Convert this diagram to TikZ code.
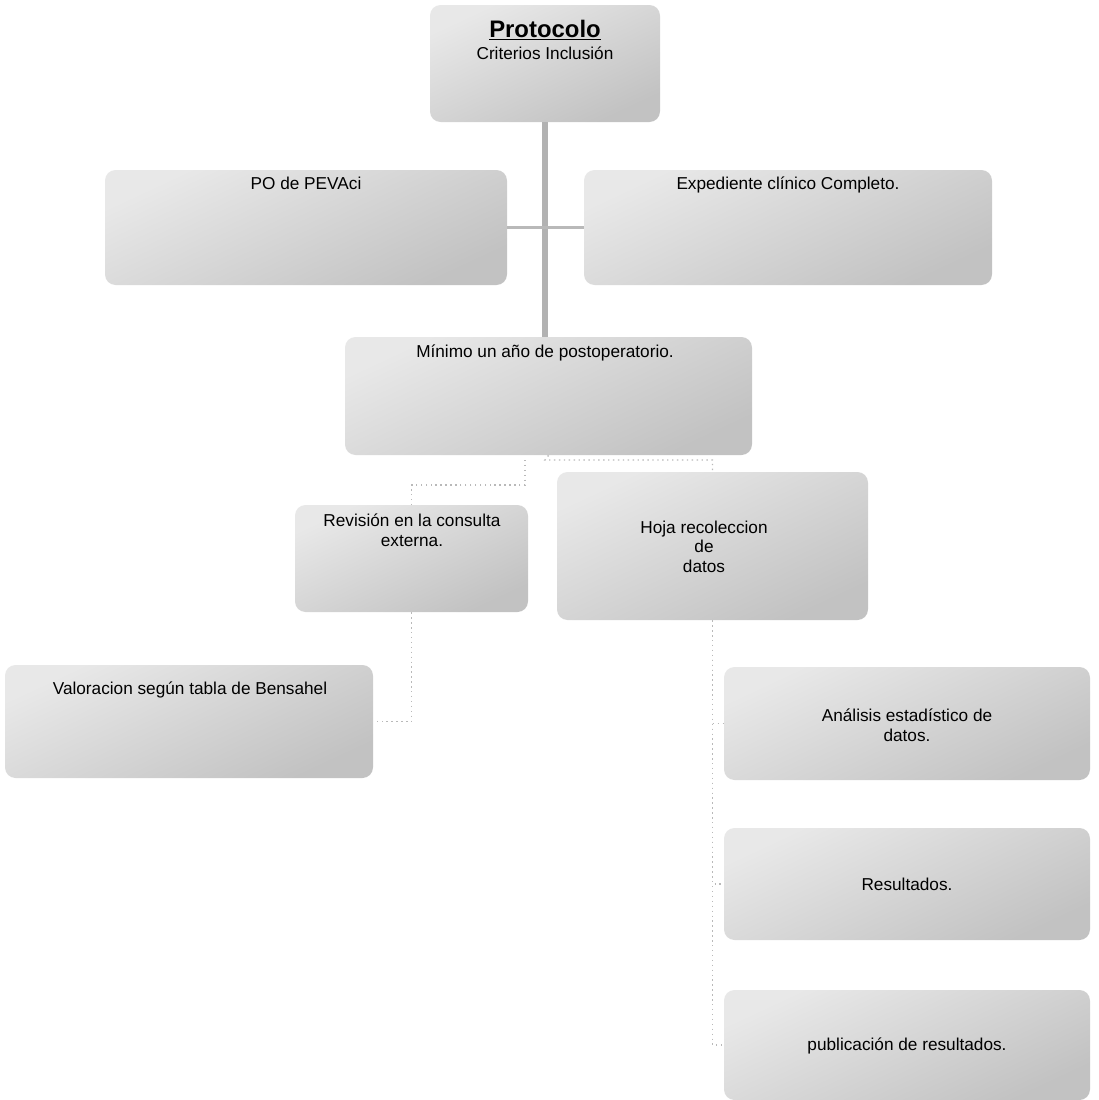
\documentclass[tikz,border=0pt]{standalone}
\usepackage{fontspec}
\setmainfont{Liberation Sans}
\usetikzlibrary{fit}

\begin{document}
\begin{tikzpicture}[x=0.02cm, y=-0.02cm]
        \tikzstyle{caja}=[rectangle, rounded corners=6pt, inner sep=0pt, draw=none, top color=gray!18, bottom color=gray!48, shading angle=25]
        \tikzstyle{texto}=[inner sep=0pt, anchor=base, font=\fontsize{9.8}{11}\selectfont, align=center]
        \tikzstyle{tronco}=[draw=gray!60, line width=3.4pt]
        \tikzstyle{rama}=[draw=gray!55, line width=1.6pt]
        \tikzstyle{punteado}=[draw=gray!55, dotted, line width=0.8pt]
        \useasboundingbox (0,0) rectangle (1099,1100);
        % cajas
        \node [caja, fit={(430,5) (660,122)}] (protocolo) {};
        \node [caja, fit={(105,170) (507,285)}] (po) {};
        \node [caja, fit={(584,170) (992,285)}] (expediente) {};
        \node [caja, fit={(345,337) (752,455)}] (minimo) {};
        \node [caja, fit={(295,505) (528,612)}] (revision) {};
        \node [caja, fit={(557,472) (868,620)}] (hoja) {};
        \node [caja, fit={(5,665) (373,778)}] (valoracion) {};
        \node [caja, fit={(724,667) (1090,780)}] (analisis) {};
        \node [caja, fit={(724,828) (1090,940)}] (resultados) {};
        \node [caja, fit={(724,990) (1090,1100)}] (publicacion) {};
        % textos (base = ultima linea)
        \node [texto, font=\fontsize{13.6}{16}\selectfont\bfseries] (tprotocolo) at (545,37) {\underline{Protocolo}};
        \node [texto] (tcriterios) at (545,59) {Criterios Inclusión};
        \node [texto] (tpo) at (306,189) {PO de PEVAci};
        \node [texto] (texpediente) at (788,189) {Expediente clínico Completo.};
        \node [texto] (tminimo) at (545,357) {Mínimo un año de postoperatorio.};
        \node [texto] (trevision) at (412,546) {Revisión en la consulta\\externa.};
        \node [texto] (thoja) at (704,572) {Hoja recoleccion\\de\\datos};
        \node [texto] (tvaloracion) at (190,694) {Valoracion según tabla de Bensahel};
        \node [texto] (tanalisis) at (907,741) {Análisis estadístico de\\datos.};
        \node [texto] (tresultados) at (907,890) {Resultados.};
        \node [texto] (tpublicacion) at (907,1050) {publicación de resultados.};
        % conectores
        \draw [tronco] (protocolo.south) -- (protocolo.south |- minimo.north);
        \draw [rama] (po.east) -- (expediente.west);
        \coordinate (c1) at (545,460);
        \coordinate (c2) at (525,485);
        \draw [punteado] (minimo.south) -- (c1) -| (hoja.north);
        \draw [punteado] (c1 -| c2) -- (c2) -| (revision.north);
        \draw [punteado] (revision.south) |- (valoracion.east);
        \foreach \n in {analisis,resultados,publicacion}
            \draw [punteado] (hoja.south) |- (\n.west);
    \end{tikzpicture}
\end{document}
